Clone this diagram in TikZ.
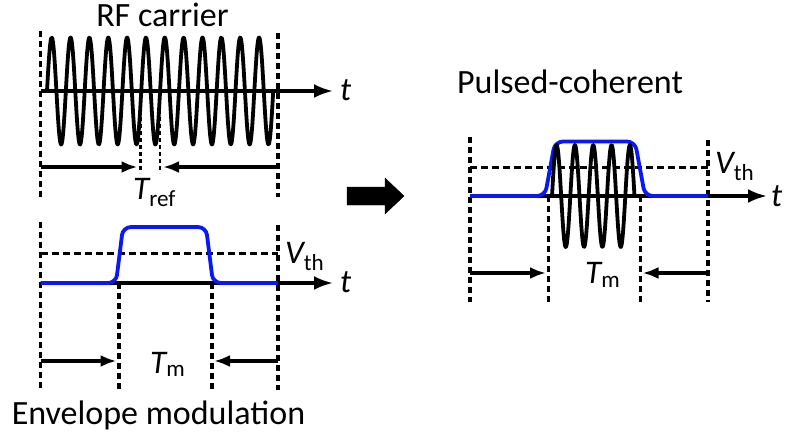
\documentclass[tikz,border=0pt]{standalone}
\usepackage{fontspec}
\setmainfont{Carlito}
\usetikzlibrary{arrows.meta,calc}
\definecolor{envblue}{RGB}{12,24,242}
\tikzset{
  axis/.style={-{Latex[length=19pt,width=14pt]}, line width=3.3pt},
  span/.style={-{Latex[length=16pt,width=12pt]}, line width=3.2pt},
  guide/.style={line width=3.5pt, dash pattern=on 6pt off 4pt},
  fineguide/.style={line width=2.6pt, dash pattern=on 4pt off 3pt},
  thresh/.style={line width=3pt, dash pattern=on 7pt off 4pt},
  wave/.style={line width=3.8pt, line join=round},
  envelope/.style={line width=3.8pt, draw=envblue, rounded corners=8pt},
  title/.style={font=\fontsize{34}{40}\selectfont, anchor=base, inner sep=0pt},
  sym/.style={font=\fontsize{33}{38}\selectfont, anchor=base west, inner sep=0pt},
  blockarrow/.style={fill=black}
}

\begin{document}
\begin{tikzpicture}[x=1pt,y=-1pt]
  \useasboundingbox (0,0) rectangle (785,437);

  % RF carrier
  \node[title] (rftitle) at (162.5,26) {RF carrier};
  \coordinate (rfL) at (40.7,91);
  \coordinate (rfR) at (333,91);
  \draw[guide] (40.7,31) -- (40.7,197);
  \draw[guide] (278,33) -- (278,197);
  \draw[fineguide] (140.7,103) -- (140.7,173);
  \draw[fineguide] (160,103) -- (160,173);
  \draw[wave] plot[domain=47:273.2, samples=500, smooth] (\x,{91-53.5*sin((\x-47)*19.098)});
  \draw[axis] (rfL) -- (rfR);
  \node[sym] (rft) at (340,100) {\itshape t};
  \coordinate (refL) at (40.7,167);
  \coordinate (refLtip) at (137.5,167);
  \coordinate (refR) at (278,167);
  \coordinate (refRtip) at (163,167);
  \draw[span] (refL) -- (refLtip);
  \draw[span] (refR) -- (refRtip);
  \node[sym] (tref) at (133,199) {{\itshape T}\textsubscript{ref}};

  % envelope modulation
  \coordinate (envL) at (40.7,283);
  \coordinate (envR) at (333,283);
  \draw[guide] (40.7,222) -- (40.7,390);
  \draw[guide] (278,225) -- (278,390);
  \draw[guide] (119,283) -- (119,390);
  \draw[guide] (212,283) -- (212,390);
  \draw[thresh] (40.7,253) -- (278,253);
  \draw[axis] (envL) -- (envR);
  \draw[envelope] (40.7,283) -- (116,283) -- (123,227) -- (206,227) -- (213,283) -- (278,283);
  \node[sym] (vthA) at (285,263) {{\itshape V}\textsubscript{th}};
  \node[sym] (envt) at (340,292) {\itshape t};
  \coordinate (tmAL) at (40.7,361);
  \coordinate (tmALtip) at (116.5,361);
  \coordinate (tmAR) at (278,361);
  \coordinate (tmARtip) at (214,361);
  \draw[span] (tmAL) -- (tmALtip);
  \draw[span] (tmAR) -- (tmARtip);
  \node[sym] (tmA) at (150,373) {{\itshape T}\textsubscript{m}};
  \node[title] (envtitle) at (158.5,424) {Envelope modulation};

  % block arrow
  \draw[blockarrow] (347,187) -- (385,187) -- (385,178) -- (404,196) -- (385,214) -- (385,205) -- (347,205) -- cycle;

  % pulsed-coherent
  \node[title] (pctitle) at (570,93) {Pulsed-coherent};
  \coordinate (pcL) at (470,196);
  \coordinate (pcR) at (767,196);
  \draw[guide] (470,137) -- (470,302);
  \draw[guide] (708,140) -- (708,302);
  \draw[guide] (548.3,196) -- (548.3,302);
  \draw[guide] (640.7,196) -- (640.7,302);
  \draw[thresh] (470,167) -- (708,167);
  \draw[axis] (pcL) -- (pcR);
  \draw[envelope] (470,196) -- (545,196) -- (555,141.5) -- (635,141.5) -- (645,196) -- (708,196);
  \draw[wave] plot[domain=552:634.5, samples=200, smooth] (\x,{196-51*sin((\x-552)*19.64)});
  \node[sym] (vthB) at (715,173.3) {{\itshape V}\textsubscript{th}};
  \node[sym] (pct) at (771,206) {\itshape t};
  \coordinate (tmBL) at (470,273);
  \coordinate (tmBLtip) at (546,273);
  \coordinate (tmBR) at (708,273);
  \coordinate (tmBRtip) at (642.5,273);
  \draw[span] (tmBL) -- (tmBLtip);
  \draw[span] (tmBR) -- (tmBRtip);
  \node[sym] (tmB) at (585,283.3) {{\itshape T}\textsubscript{m}};
\end{tikzpicture}
\end{document}
